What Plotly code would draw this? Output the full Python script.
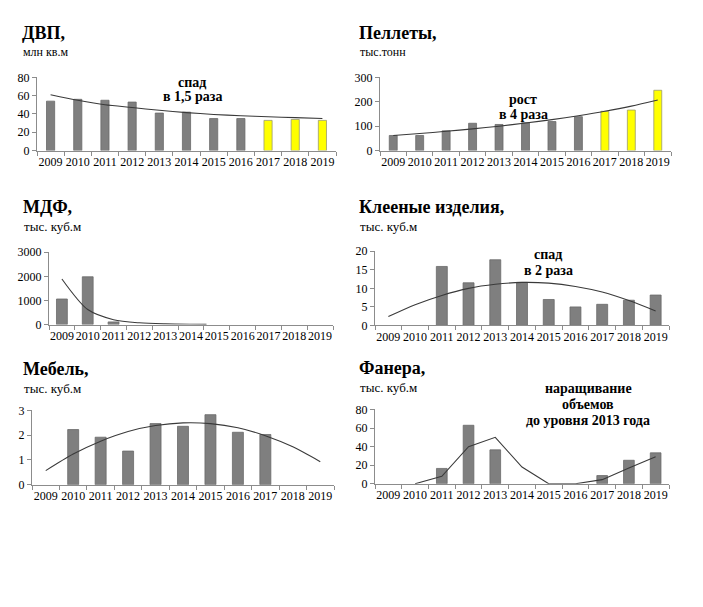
import plotly.graph_objects as go

W, H = 703, 607

years = [2009, 2010, 2011, 2012, 2013, 2014, 2015, 2016, 2017, 2018, 2019]
year_labels = [str(y) for y in years]

# ДВП, млн кв.м
dvp_values = [54, 56, 55, 53, 41, 42, 35, 35, 33, 34, 33]
dvp_trend = [61, 55, 50, 47, 44, 41.5, 39.5, 38, 37, 36, 35]
# Пеллеты, тыс.тонн
pellet_values = [62, 62, 81, 112, 107, 114, 119, 139, 161, 166, 247]
pellet_trend = [62, 70, 79, 89, 100, 113, 127, 143, 161, 182, 207]
# МДФ, тыс. куб.м
mdf_values = [1058, 1980, 107, None, None, None, None, None, None, None, None]
mdf_trend_x = [2009, 2010, 2011, 2012, 2013, 2014, 2014.6]
mdf_trend = [1890, 620, 200, 70, 25, 8, 4]
# Клееные изделия, тыс. куб.м
glued_values = [None, None, 15.9, 11.5, 17.7, 11.6, 7.0, 5.0, 5.7, 6.8, 8.2]
glued_trend = [2.4, 5.6, 8.1, 10.0, 11.1, 11.6, 11.4, 10.5, 9.0, 6.7, 3.9]
# Мебель, тыс. куб.м
furn_values = [None, 2.23, 1.92, 1.36, 2.47, 2.36, 2.83, 2.12, 2.03, None, None]
furn_trend = [0.57, 1.24, 1.76, 2.15, 2.39, 2.5, 2.47, 2.3, 1.98, 1.53, 0.93]
# Фанера, тыс. куб.м
ply_values = [None, None, 16.5, 63, 36.5, None, None, None, 8.8, 25.3, 33.3]
ply_trend = [None, 0, 8, 40, 50, 18, 0, 0, 4.4, 17, 29]

forecast_years = [2017, 2018, 2019]

GRAY = "#7f7f7f"
YELLOW = "#ffff00"
AXIS = "#8c8c8c"
LINE = "#3a3a3a"
SERIF = "Liberation Serif, Times New Roman, serif"


def px(x):
    return x / W


def py(y):
    return 1 - y / H


panels = [
    dict(x=(37, 336), y=(72, 147), rng=80, dt=20, bw=0.3),
    dict(x=(380, 671), y=(72, 147), rng=300, dt=100, bw=0.3),
    dict(x=(49, 333), y=(251, 325), rng=3000, dt=1000, bw=0.42),
    dict(x=(375, 669), y=(250, 326), rng=20, dt=5, bw=0.41),
    dict(x=(32, 334), y=(413, 489), rng=3, dt=1, bw=0.4),
    dict(x=(375, 669), y=(412, 488), rng=80, dt=20, bw=0.4),
]

series = [
    (dvp_values, years, dvp_trend, "spline"),
    (pellet_values, years, pellet_trend, "spline"),
    (mdf_values, mdf_trend_x, mdf_trend, "spline"),
    (glued_values, years, glued_trend, "spline"),
    (furn_values, years, furn_trend, "spline"),
    (ply_values, years, ply_trend, "linear"),
]

fig = go.Figure()
layout = {}
for i, (p, (vals, tx, tv, shape)) in enumerate(zip(panels, series)):
    n = "" if i == 0 else str(i + 1)
    xa, ya = "x" + n, "y" + n
    colors = [YELLOW if (i < 2 and y in forecast_years) else GRAY for y in years]
    lcolors = ["#9a9a70" if c == YELLOW else "#6a6a6a" for c in colors]
    fig.add_trace(go.Bar(x=years, y=vals, width=p["bw"], xaxis=xa, yaxis=ya,
                         marker=dict(color=colors, line=dict(color=lcolors, width=0.8)),
                         showlegend=False, hoverinfo="skip"))
    fig.add_trace(go.Scatter(x=tx, y=tv, mode="lines", xaxis=xa, yaxis=ya,
                             line=dict(color=LINE, width=1.1, shape=shape, smoothing=0.8),
                             connectgaps=False, showlegend=False, hoverinfo="skip"))
    layout["xaxis" + n] = dict(
        domain=[px(p["x"][0]), px(p["x"][1])], anchor=ya, range=[2008.5, 2019.5],
        tickmode="array", tickvals=years, ticktext=year_labels, ticks="", tickangle=0,
        showline=True, linecolor=AXIS, linewidth=1, showgrid=False, zeroline=False,
        tickfont=dict(family=SERIF, size=12, color="#000"), fixedrange=True,
        minor=dict(tickvals=[y - 0.5 for y in years] + [2019.5], ticks="outside",
                   ticklen=4, tickcolor=AXIS, showgrid=False),
    )
    layout["yaxis" + n] = dict(
        domain=[py(p["y"][1]), py(p["y"][0])], anchor=xa, range=[0, p["rng"]],
        dtick=p["dt"], tick0=0, ticks="outside", ticklen=4, tickcolor=AXIS,
        showline=True, linecolor=AXIS, linewidth=1, showgrid=False, zeroline=False,
        tickfont=dict(family=SERIF, size=12, color="#000"), fixedrange=True,
    )

fig.update_layout(**layout)

titles = [
    ("ДВП,", "млн кв.м", 20, 27, 46, 12),
    ("Пеллеты,", "тыс.тонн", 357, 27, 46, 12),
    ("МДФ,", "тыс. куб.м", 21, 205, 225, 13),
    ("Клееные изделия,", "тыс. куб.м", 357, 205, 225, 13),
    ("Мебель,", "тыс. куб.м", 21, 371, 390, 13),
    ("Фанера,", "тыс. куб.м", 357, 370, 389, 13),
]
anns = []
for t, s, x, yt, ys, fs in titles:
    anns.append(dict(text="<b>" + t + "</b>", x=px(x), y=py(yt), xref="paper", yref="paper",
                     xanchor="left", yanchor="middle", showarrow=False,
                     font=dict(family=SERIF, size=18, color="#000")))
    anns.append(dict(text=s, x=px(x + 1), y=py(ys), xref="paper", yref="paper",
                     xanchor="left", yanchor="middle", showarrow=False,
                     font=dict(family=SERIF, size=fs, color="#000")))

notes = [
    ("спад", 192, 77), ("в 1,5 раза", 192, 92),
    ("рост", 523, 95), ("в 4 раза", 523, 110),
    ("спад", 548, 253), ("в 2 раза", 548, 270),
    ("наращивание", 588, 390), ("объемов", 588, 407), ("до уровня 2013 года", 588, 423),
]
for t, x, y in notes:
    anns.append(dict(text="<b>" + t + "</b>", x=px(x), y=py(y), xref="paper", yref="paper",
                     xanchor="center", yanchor="middle", showarrow=False,
                     font=dict(family=SERIF, size=14, color="#000")))

fig.update_layout(
    width=W, height=H, margin=dict(l=0, r=0, t=0, b=0),
    paper_bgcolor="white", plot_bgcolor="white",
    annotations=anns, barmode="overlay", showlegend=False,
)

fig.write_html("out.html", config={"displayModeBar": False})
